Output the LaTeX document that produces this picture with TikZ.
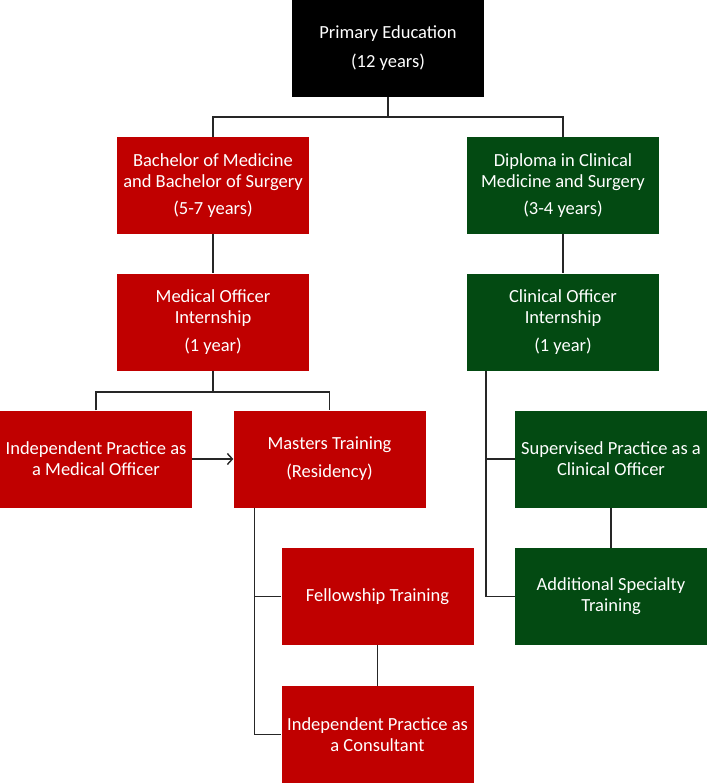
\documentclass[tikz,border=0pt]{standalone}
\usepackage{fontspec}
\setmainfont{Carlito}
\usetikzlibrary{arrows.meta}
\definecolor{boxred}{RGB}{192,0,0}
\definecolor{boxgreen}{RGB}{3,74,18}
\begin{document}
\begin{tikzpicture}[x=1pt,y=-1pt,
  box/.style={draw=none, text=white, align=center, inner sep=0pt,
    minimum width=192pt, minimum height=97pt,
    font=\fontsize{18.5}{21}\selectfont},
  redbox/.style={box, fill=boxred},
  greenbox/.style={box, fill=boxgreen},
  blackbox/.style={box, fill=black},
  conn/.style={draw=black!85, line width=1.4pt},
  arr/.style={conn, -{Straight Barb[length=5pt,width=11pt,line width=1.4pt]}}]
\useasboundingbox (0,0) rectangle (708,783);
\node[blackbox] (prim) at (388,48.5) {Primary Education\\[8pt](12 years)};
\node[redbox] (bach) at (213,185.5) {Bachelor of Medicine\\and Bachelor of Surgery\\[6pt](5-7 years)};
\node[greenbox] (dipl) at (563,185.5) {Diploma in Clinical\\Medicine and Surgery\\[6pt](3-4 years)};
\node[redbox] (moi) at (213,322) {Medical Officer\\Internship\\[7pt](1 year)};
\node[greenbox] (coi) at (563,322) {Clinical Officer\\Internship\\[7pt](1 year)};
\node[redbox] (ipmo) at (96,459) {Independent Practice as\\a Medical Officer};
\node[redbox] (mast) at (329.5,459) {Masters Training\\[7pt](Residency)};
\node[greenbox] (sup) at (611,459) {Supervised Practice as a\\Clinical Officer};
\node[redbox] (fell) at (377.5,596.5) {Fellowship Training};
\node[greenbox] (add) at (611,596.5) {Additional Specialty\\Training};
\node[redbox] (cons) at (377.5,734.5) {Independent Practice as\\a Consultant};
\coordinate (j1) at (388,117);
\coordinate (j2) at (213,392);
\draw[conn] (prim.south) -- (j1);
\draw[conn] (bach.north) |- (j1) -| (dipl.north);
\draw[conn] (bach.south) -- (moi.north);
\draw[conn] (dipl.south) -- (coi.north);
\draw[conn] (moi.south) -- (j2);
\draw[conn] (ipmo.north) |- (j2) -| (mast.north);
\draw[arr] (ipmo.east) -- (mast.west);
\draw[conn] ([xshift=19pt]coi.south west) |- (add.west);
\draw[conn] ([xshift=19pt]coi.south west |- sup.west) -- (sup.west);
\draw[conn] (sup.south) -- (add.north);
\draw[conn] ([xshift=21pt]mast.south west) |- (cons.west);
\draw[conn] ([xshift=21pt]mast.south west |- fell.west) -- (fell.west);
\draw[conn] (fell.south) -- (cons.north);
\end{tikzpicture}
\end{document}
